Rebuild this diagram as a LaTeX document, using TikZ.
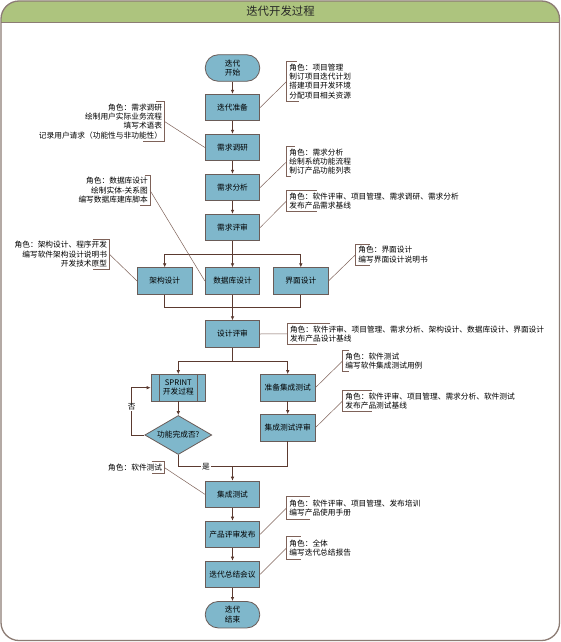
\documentclass[tikz,border=0pt]{standalone}
\usepackage{fontspec}
\setmainfont{Noto Sans CJK SC}
\usetikzlibrary{arrows.meta,shapes.geometric}
\definecolor{boxfill}{HTML}{7FB7CB}
\definecolor{boxdraw}{HTML}{6A5C58}
\definecolor{linec}{HTML}{5B3A30}
\definecolor{callc}{HTML}{7E6259}
\definecolor{framec}{HTML}{8C7C74}
\definecolor{titlec}{HTML}{ADC47E}
\newcommand\myfs{\fontsize{7.7pt}{9.3pt}\selectfont}
\tikzset{
  proc/.style={rectangle,fill=boxfill,draw=boxdraw,line width=0.8pt,minimum width=54.5pt,minimum height=26.5pt,inner sep=1pt,font=\myfs,align=center},
  term/.style={proc,rounded corners=13pt},
  dec/.style={diamond,fill=boxfill,draw=boxdraw,line width=0.8pt,minimum width=67pt,minimum height=39pt,inner sep=0pt,aspect=1.7,font=\myfs},
  arr/.style={draw=linec,line width=0.7pt,-{Latex[length=4pt,width=3.6pt]}},
  ln/.style={draw=linec,line width=0.7pt},
  brk/.style={draw=callc,line width=0.7pt},
  cl/.style={draw=callc,line width=0.5pt},
  note/.style={font=\myfs,inner sep=0pt,text=black},
  lbl/.style={font=\myfs,fill=white,inner sep=0.8pt}
}
% name, x, top, bottom, top tick, bottom tick, text
\newcommand\rnote[7]{%
  \coordinate (#1) at (#2,{(#3+#4)/2});
  \node[note,anchor=west,align=left] (#1t) at ([xshift=2.5pt]#1) {#7};
  \draw[brk] (#2+#5,#3) -- (#2,#3) -- (#2,#4) -- (#2+#6,#4);
}
\newcommand\lnote[7]{%
  \coordinate (#1) at (#2,{(#3+#4)/2});
  \node[note,anchor=east,align=right] (#1t) at ([xshift=-2pt]#1) {#7};
  \draw[brk] (#2-#5,#3) -- (#2,#3) -- (#2,#4) -- (#2-#6,#4);
}
\begin{document}
\begin{tikzpicture}[x=1pt,y=-1pt]
\useasboundingbox (0,0) rectangle (561,642);
% frame
\begin{scope}
  \clip[rounded corners=18pt] (1,1) rectangle (559.5,640.5);
  \fill[white] (0,0) rectangle (561,642);
  \fill[titlec] (0,0) rectangle (561,22.3);
\end{scope}
\draw[framec,line width=1.1pt] (1,22.3) -- (559.5,22.3);
\draw[framec,line width=1.3pt,rounded corners=18pt] (1,1) rectangle (559.5,640.5);
\node[font=\fontsize{11.4pt}{13pt}\selectfont,text=black!85] (title) at (280.5,11.5) {迭代开发过程};

% main nodes
\node[term] (st) at (232.5,68) {迭代\\开始};
\node[proc] (prep) at (232.5,107.5) {迭代准备};
\node[proc] (req) at (232.5,147.5) {需求调研};
\node[proc] (ana) at (232.5,187.5) {需求分析};
\node[proc] (rrev) at (232.5,227.5) {需求评审};
\node[proc] (arch) at (164.7,281) {架构设计};
\node[proc] (db) at (232.5,281) {数据库设计};
\node[proc] (ui) at (300.8,281) {界面设计};
\node[proc] (drev) at (232.5,334) {设计评审};
\node[proc] (sp) at (178.3,387.7) {SPRINT\\开发过程};
\draw[boxdraw,line width=0.8pt] ([xshift=8.3pt]sp.north west) -- ([xshift=8.3pt]sp.south west);
\draw[boxdraw,line width=0.8pt] ([xshift=-8.3pt]sp.north east) -- ([xshift=-8.3pt]sp.south east);
\node[proc] (pit) at (287.7,387.7) {准备集成测试};
\node[dec] (dm) at (178.3,435) {功能完成否?};
\node[proc] (itr) at (287.7,427.7) {集成测试评审};
\node[proc] (it) at (232.5,494.3) {集成测试};
\node[proc] (prel) at (232.5,534.3) {产品评审发布};
\node[proc] (sum) at (232.5,574.3) {迭代总结会议};
\node[term] (en) at (232.5,614.7) {迭代\\结束};

% flow
\draw[arr] (st) -- (prep);
\draw[arr] (prep) -- (req);
\draw[arr] (req) -- (ana);
\draw[arr] (ana) -- (rrev);
\coordinate (b1) at (232.5,254.3);
\draw[arr] (rrev) -- (db);
\draw[arr] (b1) -| (arch.north);
\draw[arr] (b1) -| (ui.north);
\coordinate (m1) at (232.5,307.3);
\draw[ln] (arch.south) |- (m1);
\draw[ln] (ui.south) |- (m1);
\draw[arr] (db) -- (drev);
\coordinate (b2) at (232.5,361);
\draw[ln] (drev.south) -- (b2);
\draw[arr] (b2) -| (sp.north);
\draw[arr] (b2) -| (pit.north);
\draw[arr] (sp) -- (dm);
\draw[arr] (pit) -- (itr);
\coordinate (nc) at (131.7,435);
\draw[arr] (dm.west) -- (nc) |- (sp.west);
\node[lbl] (no) at (131.7,406.7) {否};
\coordinate (m2) at (232.5,466.7);
\draw[ln] (dm.south) |- (m2);
\draw[ln] (itr.south) |- (m2);
\node[lbl] (yes) at (206,466.7) {是};
\draw[arr] (m2) -- (it);
\draw[arr] (it) -- (prel);
\draw[arr] (prel) -- (sum);
\draw[arr] (sum) -- (en);

% right notes
\rnote{n1}{286.7}{61.7}{101}{10}{12}{角色：项目管理\\制订项目迭代计划\\搭建项目开发环境\\分配项目相关资源}
\draw[cl] (prep.east) -- (n1);
\rnote{n2}{286.7}{146.7}{176.7}{8}{4}{角色：需求分析\\绘制系统功能流程\\制订产品功能列表}
\draw[cl] (ana.east) -- (n2);
\rnote{n3}{286.7}{190}{211.7}{30}{30}{角色：软件评审、项目管理、需求调研、需求分析\\发布产品需求基线}
\draw[cl] (rrev.east) -- (n3);
\rnote{n4}{355.7}{244}{265}{14}{14}{角色：界面设计\\编写界面设计说明书}
\draw[cl] (ui.east) -- (n4);
\rnote{n5}{287.3}{323.3}{344.3}{43}{30}{角色：软件评审、项目管理、需求分析、架构设计、数据库设计、界面设计\\发布产品设计基线}
\draw[cl] (drev.east) -- (n5);
\rnote{n6}{342.7}{350}{371.7}{6}{6}{角色：软件测试\\编写软件集成测试用例}
\draw[cl] (pit.east) -- (n6);
\rnote{n7}{342.7}{390}{411.7}{29}{29}{角色：软件评审、项目管理、需求分析、软件测试\\发布产品测试基线}
\draw[cl] (itr.east) -- (n7);
\rnote{n8}{286.7}{496.7}{519}{23}{23}{角色：软件评审、项目管理、发布培训\\编写产品使用手册}
\draw[cl] (prel.east) -- (n8);
\rnote{n9}{286.7}{536.7}{559}{14}{14}{角色：全体\\编写迭代总结报告}
\draw[cl] (sum.east) -- (n9);

% left notes
\lnote{la}{164.3}{101.7}{141}{8}{21}{角色：需求调研\\绘制用户实际业务流程\\填写术语表\\记录用户请求（功能性与非功能性）}
\draw[cl] (req.west) -- (la);
\lnote{lb}{150}{175}{205.7}{5}{10}{角色：数据库设计\\绘制实体-关系图\\编写数据库建库脚本}
\draw[cl] (db.west) -- (lb);
\lnote{lc}{109.3}{239}{269.3}{16}{16}{角色：架构设计、程序开发\\编写软件架构设计说明书\\开发技术原型}
\draw[cl] (arch.west) -- (lc);
\lnote{ld}{164.3}{461.7}{473.3}{12.6}{12.6}{角色：软件测试}
\draw[cl] (it.west) -- (ld);
\end{tikzpicture}
\end{document}
